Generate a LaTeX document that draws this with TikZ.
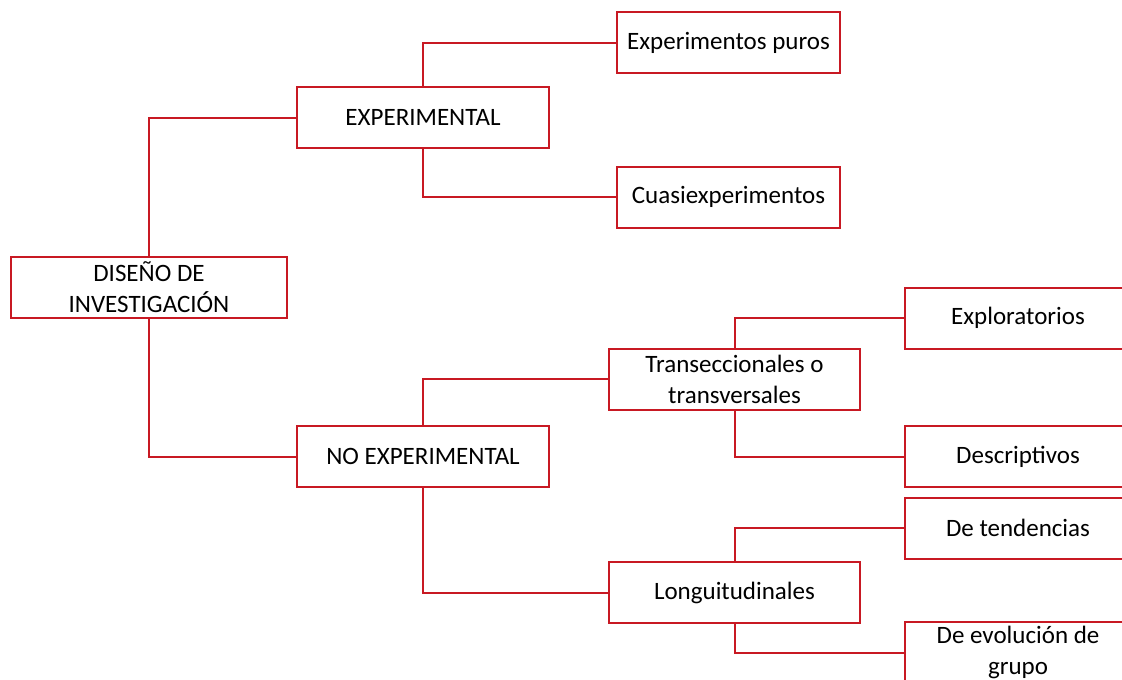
\documentclass[tikz,border=0pt]{standalone}
\usepackage{fontspec}
\setmainfont{Carlito}
\definecolor{boxred}{RGB}{200,25,35}
\tikzset{
  box/.style={shape=rectangle,draw=boxred,line width=2pt,minimum height=61pt,
    align=center,inner sep=2pt,font=\fontsize{25}{31}\selectfont},
  link/.style={draw=boxred,line width=2pt}
}

\begin{document}
\begin{tikzpicture}[x=1pt,y=-1pt]
    \useasboundingbox (0,0) rectangle (1122,680);
    \clip (0,0) rectangle (1122,680);
    \node[box,minimum width=276pt] (root) at (149,287.5) {DISEÑO DE\\INVESTIGACIÓN};
    \node[box,minimum width=252pt] (exp) at (423,117.5) {EXPERIMENTAL};
    \node[box,minimum width=252pt] (noexp) at (423,456.5) {NO EXPERIMENTAL};
    \node[box,minimum width=223pt] (puros) at (728.5,42.5) {Experimentos puros};
    \node[box,minimum width=223pt] (cuasi) at (728.5,197) {Cuasiexperimentos};
    \node[box,minimum width=251pt] (trans) at (734.5,379) {Transeccionales o\\transversales};
    \node[box,minimum width=251pt] (longi) at (734.5,592.5) {Longuitudinales};
    \node[box,minimum width=226pt] (explo) at (1018,318) {Exploratorios};
    \node[box,minimum width=226pt] (descr) at (1018,456.5) {Descriptivos};
    \node[box,minimum width=226pt] (tend) at (1018,528) {De tendencias};
    \node[box,minimum width=226pt] (evol) at (1018,652.5) {De evolución de\\grupo};
    \path[link] (root.north) |- (exp.west);
    \path[link] (root.south) |- (noexp.west);
    \path[link] (exp.north) |- (puros.west);
    \path[link] (exp.south) |- (cuasi.west);
    \path[link] (noexp.north) |- (trans.west);
    \path[link] (noexp.south) |- (longi.west);
    \path[link] (trans.north) |- (explo.west);
    \path[link] (trans.south) |- (descr.west);
    \path[link] (longi.north) |- (tend.west);
    \path[link] (longi.south) |- (evol.west);
\end{tikzpicture}
\end{document}
